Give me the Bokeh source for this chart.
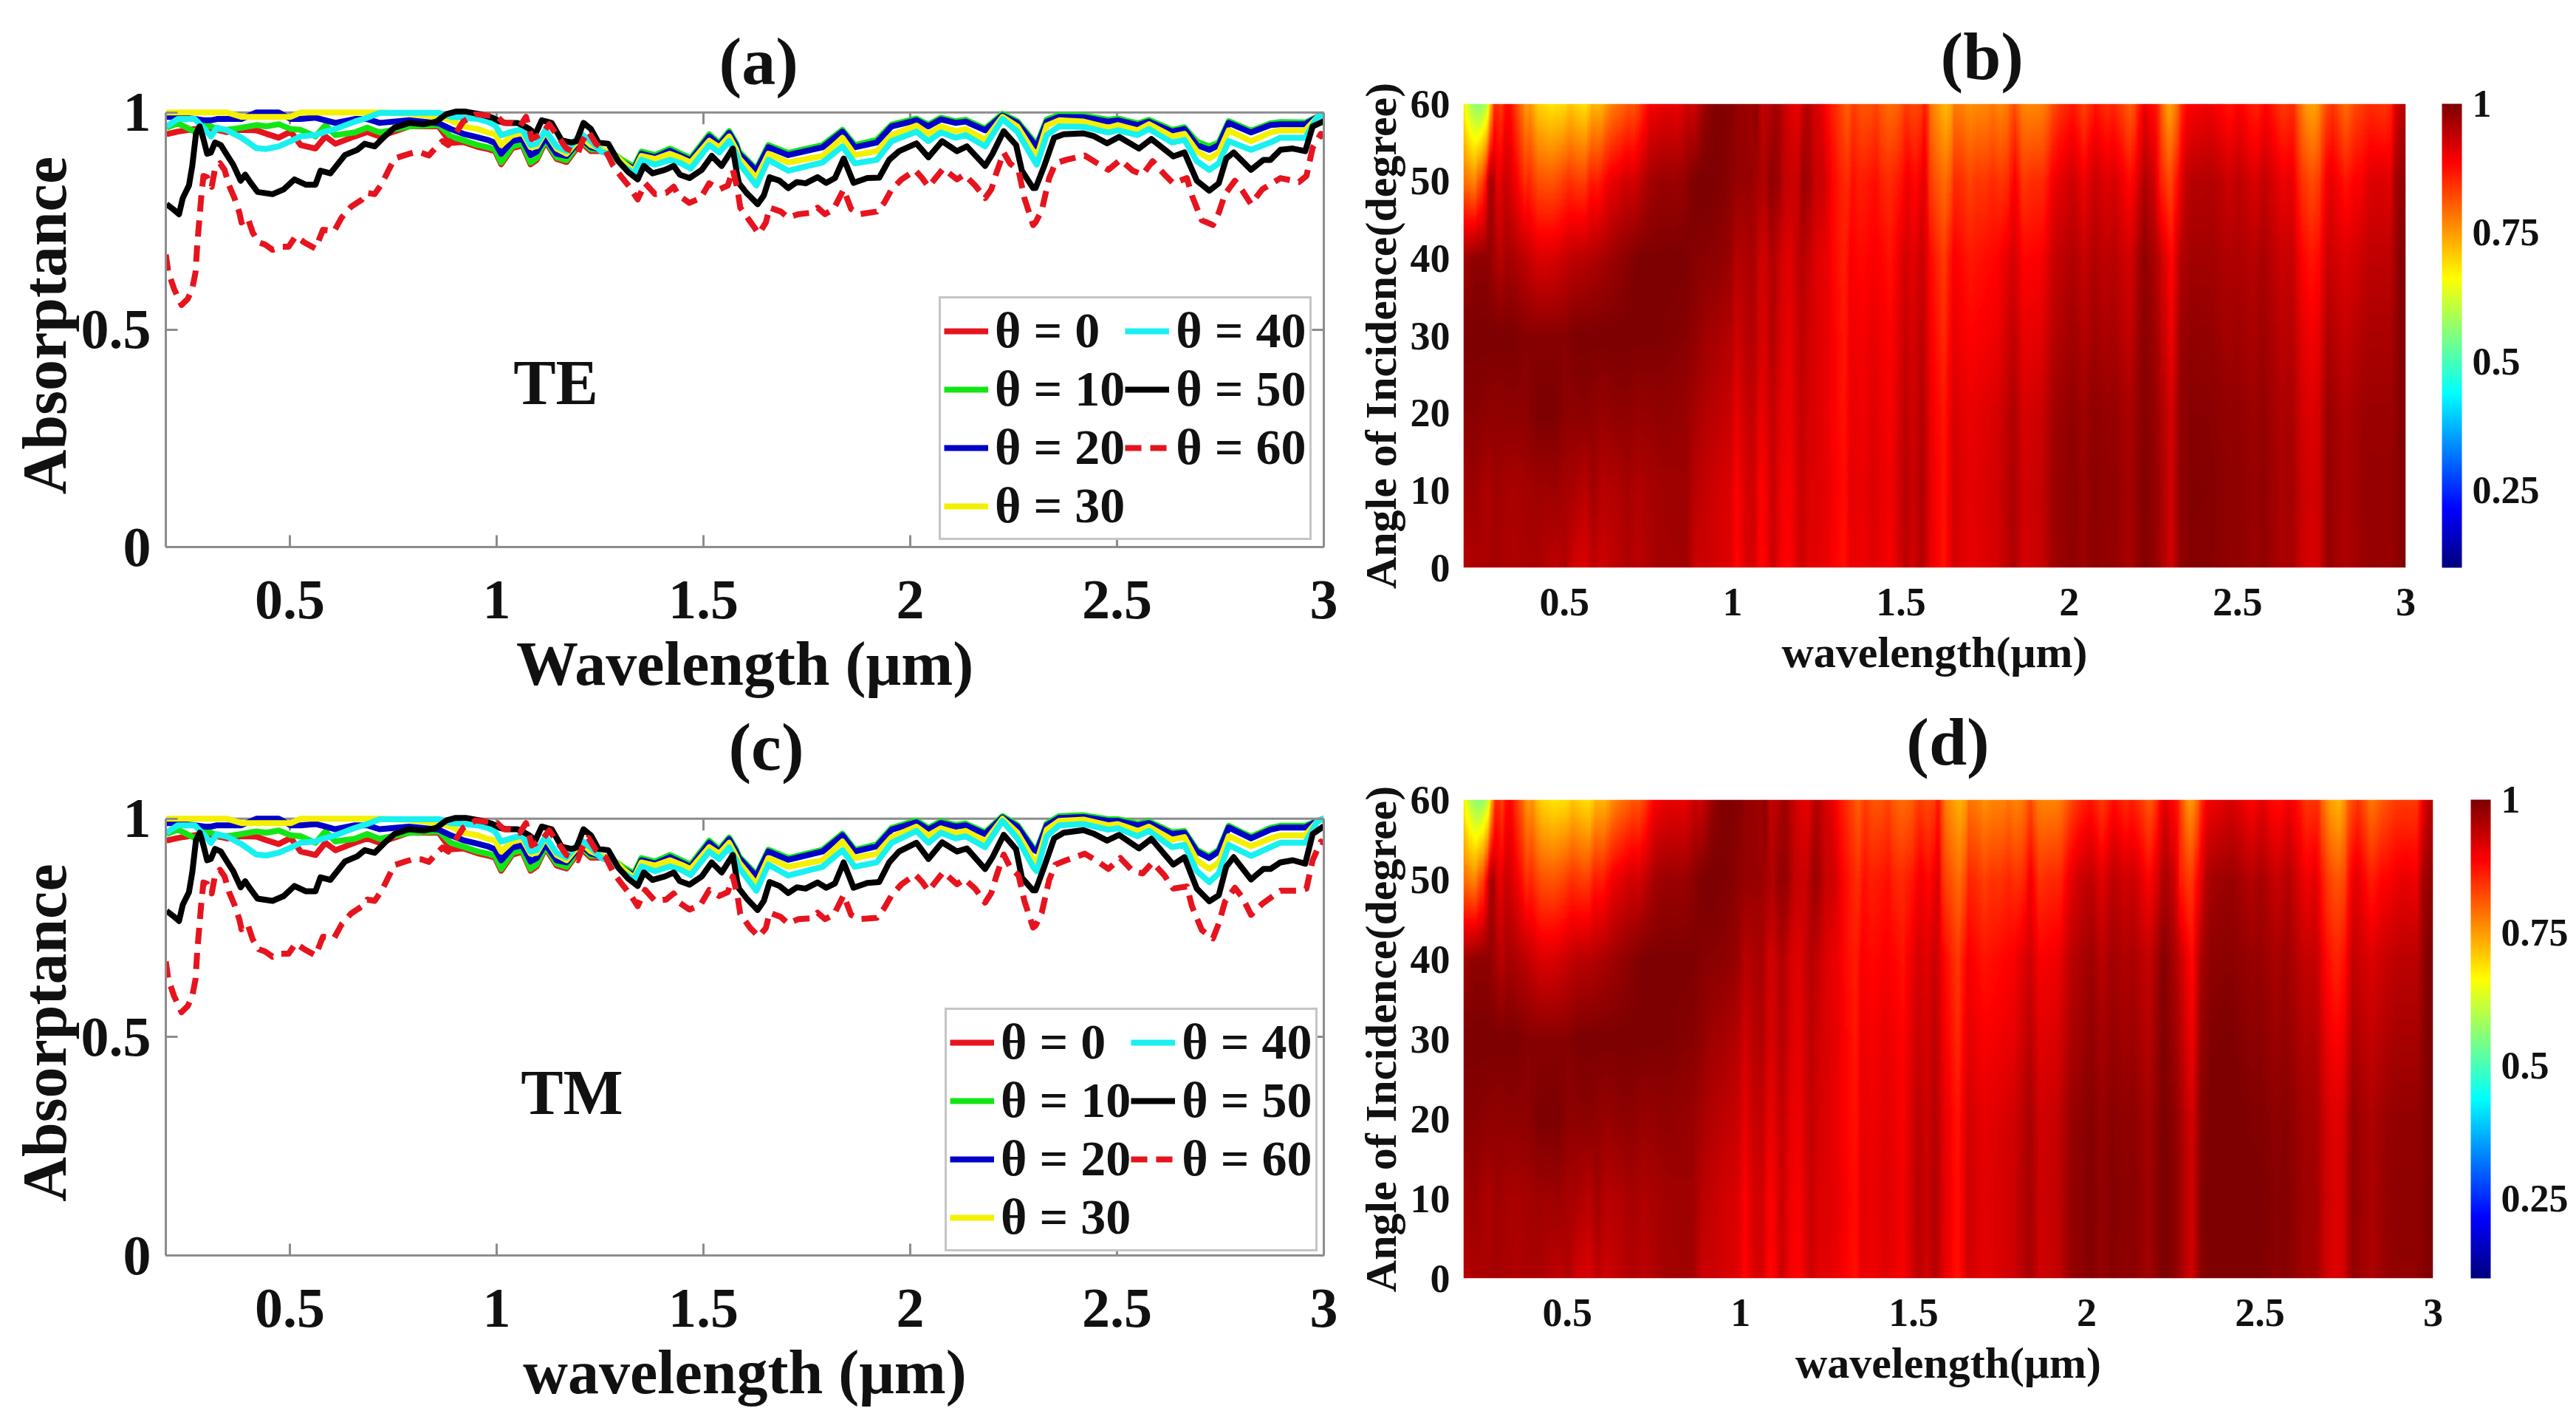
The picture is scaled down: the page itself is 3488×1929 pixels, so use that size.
import numpy as np
from bokeh.embed import file_html
from bokeh.layouts import column, row
from bokeh.models import (ColorBar, FixedTicker, Label, Legend, LegendItem, LinearAxis,
                          LinearColorMapper, NumeralTickFormatter, Range1d)
from bokeh.plotting import figure
from bokeh.resources import INLINE

# ---------------------------------------------------------------- shared wavelength grids (um)
wl_upper = [.202,.229,.270,.294,.309,.324,.348,.383,.419,.443,.473,.502,.526,.562,.586,.610,.657,.687,.717,.788,.860,.889,
            .919,.954,.978,.996,1.011,1.038,1.062,1.082,1.097,1.118,1.145,1.169,1.204,1.228,1.252,1.282,1.305,1.332,1.350,1.383,1.419,1.446,1.469,1.514,1.538,1.562,1.579,
            1.586,1.628,1.657,1.705,1.788,1.836,1.866,1.919,1.955,2.015,2.044,2.074,2.110,2.134,2.181,2.223,2.259,2.297,
            2.306,2.330,2.360,2.419,2.479,2.502,2.550,2.577,2.633,2.663,2.693,2.723,2.746,2.770,2.824,2.871,2.895,2.955,2.985,3.000]

wl_50 = [.202,.217,.232,.241,.256,.264,.273,.282,.291,.300,.309,.319,.333,.348,.363,.381,.392,.404,.422,.458,.485,.511,.538,.562,.574,.598,.633,.663,.681,.705,.729,.753,.788,.824,.854,.878,.901,
         .925,.960,.990,1.008,1.023,1.050,1.062,1.079,1.094,1.109,1.133,1.157,1.181,1.193,1.210,1.228,1.246,1.270,1.294,1.318,1.341,1.356,1.377,1.407,1.428,1.443,1.466,1.496,1.520,1.544,1.571,1.582,
         1.586,1.604,1.631,1.646,1.660,1.684,1.705,1.726,1.747,1.776,1.797,1.818,1.839,1.863,1.896,1.925,1.949,1.973,2.015,2.044,2.077,2.113,2.137,2.181,2.199,2.226,2.256,2.270,2.297,
         2.303,2.324,2.348,2.371,2.419,2.443,2.476,2.505,2.553,2.583,2.636,2.663,2.693,2.723,2.746,2.764,2.782,2.824,2.854,2.871,2.895,2.925,2.955,2.973,3.000]

wl_60 = [.200,.206,.220,.238,.253,.264,.272,.276,.281,.285,.291,.300,.311,.319,.331,.342,.353,.366,.378,.383,.398,.410,.425,.440,.458,.479,.497,.514,.535,.562,.580,.607,.625,.648,.675,.687,.705,.723,.738,.753,.779,.800,.818,.836,.851,.869,.883,
         .919,.949,.978,1.002,1.017,1.038,1.056,1.071,1.085,1.109,1.127,1.148,1.169,1.196,1.207,1.222,1.240,1.264,1.282,1.300,1.321,1.341,1.359,1.383,1.410,1.428,1.440,1.466,1.493,1.514,1.538,1.559,1.571,1.582,
         1.589,1.613,1.634,1.651,1.660,1.687,1.705,1.729,1.759,1.776,1.794,1.815,1.839,1.857,1.878,1.919,1.937,1.955,1.979,2.012,2.029,2.044,2.080,2.113,2.131,2.157,2.181,2.196,2.208,2.226,2.241,2.262,2.276,2.297,
         2.303,2.318,2.336,2.351,2.377,2.422,2.449,2.479,2.508,2.538,2.562,2.586,2.615,2.636,2.669,2.681,2.705,2.732,2.746,2.761,2.785,2.803,2.824,2.851,2.895,2.940,2.958,2.973,2.993,3.000]

# ---------------------------------------------------------------- values below 1.586 um look the same in TE and TM
a0_left  = [.950,.956,.962,.965,.960,.960,.955,.960,.959,.951,.942,.956,.925,.917,.945,.928,.945,.955,.945,.968,.968,.930,
            .932,.921,.916,.911,.881,.918,.924,.881,.891,.933,.893,.886,.931,.911,.911,.901,.886,.871,.906,.898,.913,.901,.891,.946,.926,.953,.926]
a10_left = [.965,.975,.956,.971,.968,.962,.960,.965,.971,.968,.973,.962,.960,.945,.971,.948,.954,.965,.954,.968,.971,.945,
            .936,.925,.920,.915,.885,.922,.928,.885,.895,.937,.897,.890,.935,.915,.915,.905,.890,.875,.910,.902,.917,.905,.895,.950,.930,.957,.930]
a20_left = [.990,.990,.985,.982,.982,.985,.985,.985,1.000,1.000,1.000,.985,.985,.988,.982,.976,.985,.985,.976,.982,.975,.962,
            .951,.943,.937,.930,.905,.934,.939,.902,.910,.942,.905,.900,.940,.920,.915,.900,.885,.870,.905,.897,.912,.900,.890,.945,.925,.953,.925]
a30_left = [1.000,1.000,1.000,1.000,1.000,1.000,1.000,.990,.990,.990,.990,.990,1.000,1.000,1.000,1.000,1.000,1.000,1.000,.997,.990,.982,
            .968,.962,.954,.950,.925,.948,.954,.920,.922,.956,.917,.905,.945,.925,.915,.905,.885,.865,.900,.893,.905,.895,.885,.935,.920,.945,.915]
a40_left = [.968,.985,.985,.962,.945,.965,.959,.942,.918,.916,.922,.934,.945,.948,.956,.962,.979,.988,.999,.999,.999,.990,
            .988,.985,.979,.971,.948,.956,.962,.925,.928,.959,.922,.911,.951,.934,.911,.900,.877,.860,.891,.880,.891,.883,.871,.925,.908,.934,.905]
a50_left = [.789,.778,.766,.803,.832,.877,.951,.968,.939,.905,.908,.931,.925,.902,.880,.843,.857,.840,.817,.812,.823,.846,.834,.834,.866,.860,.902,.914,.928,.922,.945,.965,.976,.973,.979,.996,1.002,
            1.002,.996,.988,.979,.976,.976,.971,.962,.951,.982,.976,.936,.931,.934,.976,.962,.931,.928,.888,.863,.846,.877,.860,.868,.877,.857,.849,.868,.900,.877,.917,.854]
a60_left = [.673,.633,.594,.557,.571,.594,.633,.696,.752,.798,.854,.851,.829,.870,.883,.868,.832,.803,.769,.747,.758,.724,.701,.696,.684,.691,.691,.715,.701,.687,.730,.727,.758,.783,.800,.815,.812,.837,.866,.894,.902,.908,.907,.901,.917,.934,.925,
            .979,.996,.993,.990,.976,.976,.968,.990,.939,.951,.973,.945,.917,.905,.934,.956,.928,.911,.877,.854,.829,.800,.837,.812,.815,.829,.809,.792,.803,.837,.823,.832,.868,.825]

# ---------------------------------------------------------------- TE, long wavelength side
te_a0_right  = [.908,.868,.923,.905,.923,.958,.923,.935,.970,.984,.970,.986,.978,.981,.961,.995,.978,.934,
                .925,.982,.992,.991,.981,.984,.973,.981,.958,.964,.931,.920,.929,.978,.956,.973,.976,.975,.990,.993]
te_a10_right = [.910,.870,.925,.907,.925,.960,.925,.937,.972,.986,.972,.988,.980,.983,.963,.997,.980,.936,
                .927,.984,.994,.993,.983,.986,.975,.983,.960,.966,.933,.922,.931,.980,.958,.975,.978,.977,.990,.993]
te_a20_right = [.905,.866,.920,.902,.920,.956,.920,.931,.968,.982,.968,.984,.976,.979,.959,.993,.976,.931,
                .922,.979,.990,.989,.979,.982,.971,.979,.956,.962,.925,.914,.925,.976,.954,.971,.973,.973,.990,.993]
te_a30_right = [.895,.849,.905,.885,.900,.942,.902,.911,.948,.970,.951,.968,.957,.962,.937,.990,.968,.911,
                .897,.970,.982,.979,.965,.971,.959,.973,.945,.951,.911,.894,.908,.959,.934,.954,.959,.959,.990,.993]
te_a40_right = [.883,.832,.891,.866,.885,.922,.883,.891,.934,.956,.934,.954,.942,.948,.922,.985,.956,.894,
                .880,.948,.968,.967,.954,.959,.948,.962,.931,.937,.888,.868,.883,.934,.914,.931,.942,.942,.990,.993]
te_a50_right = [.837,.815,.789,.809,.851,.843,.826,.840,.837,.851,.838,.849,.894,.838,.849,.850,.891,.911,.929,.897,.934,.911,.922,.877,.905,.957,.925,.866,.826,
                .826,.877,.942,.950,.952,.946,.929,.944,.917,.939,.899,.908,.843,.820,.837,.894,.908,.868,.891,.891,.914,.917,.911,.968,.980]
te_a60_right = [.781,.749,.721,.747,.781,.772,.758,.766,.769,.781,.766,.778,.823,.778,.766,.772,.792,.823,.846,.867,.849,.829,.871,.846,.857,.832,.803,.823,.860,.908,.883,.866,.803,.741,
                .747,.775,.849,.883,.891,.901,.885,.868,.891,.866,.857,.888,.857,.837,.849,.809,.752,.741,.769,.812,.843,.820,.789,.823,.849,.840,.854,.919,.951,.942]

# ---------------------------------------------------------------- TM, long wavelength side
tm_a0_right  = [.912,.870,.927,.908,.927,.964,.927,.939,.977,.994,.977,.992,.984,.987,.967,1.004,.984,.932,
                .927,.987,1.004,1.006,.997,.997,.987,.992,.967,.970,.927,.912,.927,.982,.957,.977,.982,.982,.995,1.000]
tm_a10_right = [.914,.872,.929,.910,.929,.966,.929,.941,.979,.996,.979,.994,.986,.989,.969,1.006,.986,.934,
                .929,.989,1.006,1.008,.999,.999,.989,.994,.969,.972,.929,.914,.929,.984,.959,.979,.984,.984,.995,1.000]
tm_a20_right = [.910,.868,.925,.906,.925,.962,.925,.937,.975,.992,.975,.990,.982,.985,.965,1.003,.982,.930,
                .925,.985,1.002,1.004,.995,.995,.985,.990,.965,.968,.925,.910,.925,.980,.955,.975,.980,.980,.995,1.000]
tm_a30_right = [.900,.850,.910,.890,.905,.948,.910,.920,.958,.982,.962,.978,.968,.972,.948,1.000,.968,.908,
                .900,.975,.995,.998,.985,.988,.972,.982,.952,.958,.905,.885,.900,.960,.937,.955,.962,.962,.995,1.000]
tm_a40_right = [.888,.835,.895,.870,.890,.928,.890,.900,.945,.972,.945,.968,.955,.960,.935,.995,.955,.890,
                .880,.960,.985,.988,.975,.978,.960,.972,.935,.940,.880,.855,.875,.940,.915,.935,.945,.945,.995,1.000]
tm_a50_right = [.840,.818,.791,.812,.855,.846,.830,.843,.840,.854,.842,.852,.900,.842,.853,.855,.900,.925,.945,.908,.946,.925,.932,.885,.912,.963,.930,.865,.836,
                .836,.890,.955,.968,.974,.966,.950,.963,.932,.954,.895,.912,.840,.811,.825,.890,.912,.861,.885,.885,.900,.905,.897,.965,.983]
tm_a60_right = [.782,.750,.730,.750,.785,.775,.760,.770,.772,.785,.770,.780,.825,.780,.770,.773,.795,.825,.850,.872,.855,.835,.878,.850,.862,.840,.808,.830,.868,.918,.890,.870,.812,.751,
                .755,.785,.860,.895,.905,.920,.905,.885,.910,.880,.875,.900,.870,.840,.845,.800,.745,.726,.760,.810,.842,.820,.780,.805,.835,.835,.840,.905,.948,.945]

angles = [0, 10, 20, 30, 40, 50, 60]
legend_labels = ["θ = 0", "θ = 10", "θ = 20", "θ = 30", "θ = 40", "θ = 50", "θ = 60"]
line_colors = ["#e6141e", "#14e614", "#0000c8", "#f5f000", "#19f0f0", "#000000", "#e6141e"]
x_ticks = [0.5, 1, 1.5, 2, 2.5, 3]
abs_ticks = [0, 0.5, 1]
angle_ticks = [0, 10, 20, 30, 40, 50, 60]
cbar_ticks = [0.25, 0.5, 0.75, 1]

SERIF = "Liberation Serif"
GREY = "#8c8c8c"
INK = "#111111"


def series(pol):
    if pol == "TE":
        rights = [te_a0_right, te_a10_right, te_a20_right, te_a30_right, te_a40_right, te_a50_right, te_a60_right]
    else:
        rights = [tm_a0_right, tm_a10_right, tm_a20_right, tm_a30_right, tm_a40_right, tm_a50_right, tm_a60_right]
    lefts = [a0_left, a10_left, a20_left, a30_left, a40_left, a50_left, a60_left]
    out = []
    for i, (l, r) in enumerate(zip(lefts, rights)):
        wl = wl_upper if i < 5 else (wl_50 if i == 5 else wl_60)
        out.append((wl, l + r))
    return out


def style_text_axis(ax, label_px, tick_px, label_standoff, tick_standoff):
    ax.axis_label_text_font = SERIF
    ax.axis_label_text_font_style = "bold"
    ax.axis_label_text_font_size = f"{label_px}px"
    ax.axis_label_text_color = INK
    ax.axis_label_standoff = label_standoff
    ax.major_label_text_font = SERIF
    ax.major_label_text_font_style = "bold"
    ax.major_label_text_font_size = f"{tick_px}px"
    ax.major_label_text_color = INK
    ax.major_label_standoff = tick_standoff


def set_title(p, text, offset, standoff):
    p.title.text = text
    p.title.align = "left"
    p.title.offset = offset
    p.title.standoff = standoff
    p.title.text_font = SERIF
    p.title.text_font_style = "bold"
    p.title.text_font_size = "92px"
    p.title.text_color = INK


def title_strip(text, w, h, cx, cy):
    # A blank strip above a panel that carries its letter, placed in pixels of the strip.
    s = figure(width=w, height=h, output_backend="svg", toolbar_location=None, tools="",
               x_range=Range1d(0, w), y_range=Range1d(0, h), x_axis_type=None, y_axis_type=None,
               min_border=0, frame_align=False)
    s.outline_line_color = None
    s.grid.visible = False
    s.add_layout(Label(x=cx, y=h - cy, text=text, text_align="center", text_baseline="middle", text_font=SERIF,
                       text_font_style="bold", text_font_size="92px", text_color=INK))
    return s


def line_panel(pol, xlabel, tag, tag_xy, legend_xy, left, top, frame_w, frame_h, right, bottom):
    p = figure(width=left + frame_w + right, height=top + frame_h + bottom, output_backend="svg",
               toolbar_location=None, x_range=Range1d(0.2, 3), y_range=Range1d(0, 1.02),
               min_border_left=left, min_border_right=right, min_border_top=top, min_border_bottom=bottom,
               x_axis_label=xlabel, y_axis_label="Absorptance", tools="", frame_align=False)
    p.outline_line_color = None
    p.grid.visible = False

    style_text_axis(p.xaxis[0], 84, 76, 12, 46)
    style_text_axis(p.yaxis[0], 84, 76, 0, 20)
    p.xaxis.ticker = FixedTicker(ticks=x_ticks)
    p.yaxis.ticker = FixedTicker(ticks=abs_ticks)
    p.xaxis.formatter = NumeralTickFormatter(format="0.[00]")
    p.yaxis.formatter = NumeralTickFormatter(format="0.[00]")
    for ax in (p.xaxis[0], p.yaxis[0]):
        ax.axis_line_color = GREY
        ax.axis_line_width = 3
        ax.major_tick_line_color = GREY
        ax.major_tick_line_width = 3
        ax.major_tick_in = 16
        ax.major_tick_out = 0
        ax.minor_tick_line_color = None
    p.yaxis[0].bounds = (0, 1)

    right_axis = LinearAxis(ticker=FixedTicker(ticks=abs_ticks), bounds=(0, 1), major_label_text_color=None,
                            axis_line_color=GREY, axis_line_width=3, major_tick_line_color=GREY, major_tick_line_width=3,
                            major_tick_in=16, major_tick_out=0, minor_tick_line_color=None)
    p.add_layout(right_axis, "right")
    p.segment(x0=[0.2], y0=[1], x1=[3], y1=[1], line_color=GREY, line_width=3)
    p.segment(x0=x_ticks, y0=[1] * len(x_ticks), x1=x_ticks, y1=[0.973] * len(x_ticks), line_color=GREY, line_width=3)

    rs = []
    for i, (wl, vals) in enumerate(series(pol)):
        kw = {"line_dash": "22 12"} if i == 6 else {}
        rs.append(p.line(wl, vals, line_color=line_colors[i], line_width=8, line_join="round", **kw))

    legend = Legend(items=[LegendItem(label=legend_labels[i], renderers=[rs[i]]) for i in range(7)],
                    ncols=2, location=legend_xy, margin=0, padding=4, spacing=0,
                    glyph_width=60, glyph_height=60, label_height=78, label_standoff=9,
                    label_text_font=SERIF, label_text_font_style="bold", label_text_font_size="68px",
                    label_text_line_height=1.0, label_text_color=INK, border_line_color=GREY, border_line_width=3,
                    background_fill_color="white", background_fill_alpha=1.0)
    p.add_layout(legend)
    p.add_layout(Label(x=tag_xy[0], y=tag_xy[1], text=tag, text_align="center", text_baseline="middle",
                       text_font=SERIF, text_font_style="bold", text_font_size="86px", text_color=INK))
    return p


# jet palette used by the source colour bar
jet = []
for t in np.linspace(0, 1, 256):
    r = np.clip(1.5 - abs(4 * t - 3), 0, 1)
    g = np.clip(1.5 - abs(4 * t - 2), 0, 1)
    b = np.clip(1.5 - abs(4 * t - 1), 0, 1)
    jet.append("#%02x%02x%02x" % (int(r * 255), int(g * 255), int(b * 255)))


def map_panel(pol, left, top, frame_w, frame_h, bottom, bar_gap, total_w):
    right_border = total_w - left - frame_w
    p = figure(width=total_w, height=top + frame_h + bottom, output_backend="svg", toolbar_location=None,
               x_range=Range1d(0.2, 3), y_range=Range1d(0, 60), min_border_left=left, min_border_right=right_border,
               min_border_top=top, min_border_bottom=bottom, x_axis_label="wavelength(μm)",
               y_axis_label="Angle of Incidence(degree)", tools="", frame_align=False)
    p.outline_line_color = None
    p.grid.visible = False
    style_text_axis(p.xaxis[0], 60, 54, 14, 22)
    style_text_axis(p.yaxis[0], 60, 54, 4, 12)
    p.xaxis.ticker = FixedTicker(ticks=x_ticks)
    p.yaxis.ticker = FixedTicker(ticks=angle_ticks)
    p.xaxis.formatter = NumeralTickFormatter(format="0.[00]")
    for ax in (p.xaxis[0], p.yaxis[0]):
        ax.axis_line_color = None
        ax.major_tick_line_color = None
        ax.minor_tick_line_color = None

    # smooth display shading between the read curves, as the source map is shaded
    curves = series(pol)
    fine_wl = np.linspace(0.2, 3, 561)
    rows = np.array([np.interp(fine_wl, wl, vals) for wl, vals in curves])
    fine_angle = np.linspace(0, 60, 241)
    matrix = np.array([np.interp(fine_angle, angles, rows[:, j]) for j in range(len(fine_wl))]).T
    mapper = LinearColorMapper(palette=jet, low=0.1, high=1.0)
    p.image(image=[matrix], x=0.2, y=0, dw=2.8, dh=60, color_mapper=mapper)

    bar = ColorBar(color_mapper=mapper, ticker=FixedTicker(ticks=cbar_ticks), formatter=NumeralTickFormatter(format="0.[00]"),
                   width=27, height=frame_h, location=(bar_gap, 0), padding=0, margin=0, major_tick_line_color=None,
                   minor_tick_line_color=None, bar_line_color=None, border_line_color=None, label_standoff=14,
                   major_label_text_font=SERIF, major_label_text_font_style="bold",
                   major_label_text_font_size="52px", major_label_text_color=INK)
    p.add_layout(bar, "right")
    return p


a = line_panel("TE", "Wavelength (μm)", "TE", (1.143, 0.379), (1047, 9), 224, 140, 1568, 600, 20, 210)
set_title(a, "(a)", 749, 14)
b = map_panel("TE", 169, 140, 1276, 628, 182, 49, 1668)
set_title(b, "(b)", 646, 28)
tc = title_strip("(c)", 1812, 116, 1037, 60)
c = line_panel("TM", "wavelength (μm)", "TM", (1.182, 0.373), (1055, 5), 224, 30, 1568, 603, 20, 211)
td = title_strip("(d)", 1668, 108, 825, 53)
d = map_panel("TM", 169, 24, 1316, 648, 180, 51, 1668)

page = row(column(a, tc, c), column(b, td, d))
open("out.html", "w").write(file_html(page, INLINE))
